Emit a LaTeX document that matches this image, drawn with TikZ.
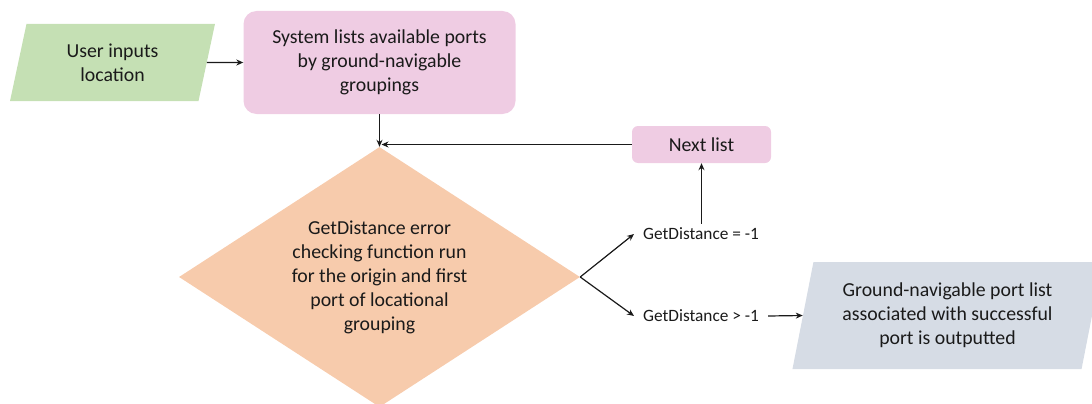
\documentclass[tikz,border=0pt]{standalone}
\usepackage{fontspec}
\setmainfont{Carlito}
\usetikzlibrary{shapes.geometric,arrows.meta}
\definecolor{cgreen}{HTML}{C5E0B4}
\definecolor{cpink}{HTML}{EFCCE3}
\definecolor{corange}{HTML}{F7CBAC}
\definecolor{cgray}{HTML}{D6DCE5}
\definecolor{ctext}{HTML}{1A1A1A}
\tikzset{
  base/.style={text=ctext, font=\fontsize{19.8}{24}\selectfont, align=center, inner sep=0pt},
  para/.style={base, trapezium, trapezium stretches=true, fill=#1},
  roundbox/.style={base, rectangle, rounded corners=13pt, fill=cpink},
  decision/.style={base, diamond, aspect=1.54, fill=corange},
  small/.style={text=ctext, font=\fontsize{17.3}{20}\selectfont, inner xsep=9pt, inner ysep=4pt},
  conn/.style={draw=ctext, line width=1.2pt, -{Stealth[length=7pt,width=6pt]}},
}
\begin{document}
\begin{tikzpicture}[x=1pt,y=-1pt]
\useasboundingbox (0,0) rectangle (1092,404);
\clip (0,0) rectangle (1092,404);
\node[para=cgreen, trapezium left angle=76.9, trapezium right angle=103.1,
      minimum width=205pt, minimum height=77pt] (input) at (112.5,62.5) {User inputs\\location};
\node[roundbox, minimum width=272pt, minimum height=103pt] (list) at (379.5,62.5)
  {System lists available ports\\by ground-navigable\\groupings};
\node[decision, minimum width=401pt, minimum height=260pt] (check) at (379.5,277)
  {GetDistance error\\checking function run\\for the origin and first\\port of locational\\grouping};
\node[roundbox, rounded corners=6pt, minimum width=139pt, minimum height=37pt] (next) at (701.5,144.5) {Next list};
\node[small, anchor=west] (eq) at (634,234) {GetDistance = -1};
\node[small, anchor=west] (gt) at (634,316) {GetDistance > -1};
\node[para=cgray, trapezium left angle=75.8, trapezium right angle=104.2,
      minimum width=311pt, minimum height=107pt] (out) at (947.5,315.5)
  {Ground-navigable port list\\associated with successful\\port is outputted};
\draw[conn] (input.east) -- (list.west);
\draw[conn] (list.south) -- (check.north);
\draw[conn] (next.west) -- ([xshift=2pt]next.west -| check.north);
\draw[conn] (check.east) -- (eq.west);
\draw[conn] (check.east) -- (gt.west);
\draw[conn] (next.south |- eq.north) -- (next.south);
\draw[conn] (gt.east) -- (out.west);
\end{tikzpicture}
\end{document}
